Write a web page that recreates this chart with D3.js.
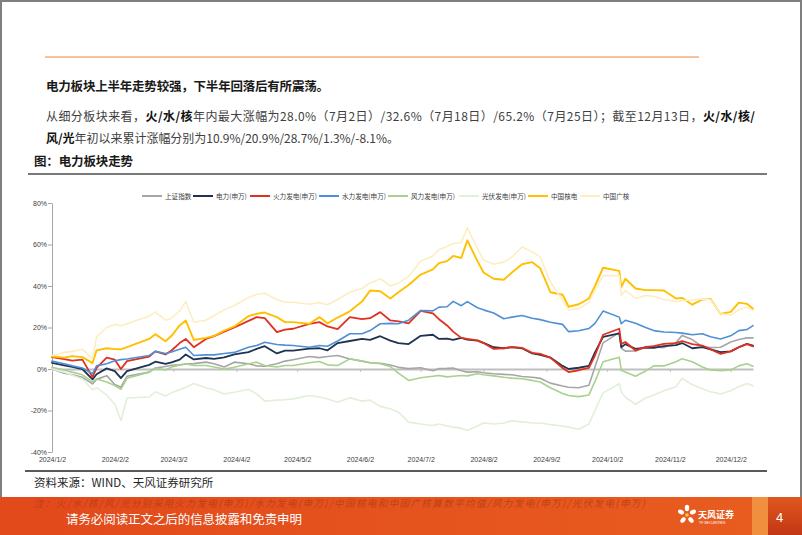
<!DOCTYPE html>
<html><head><meta charset="utf-8">
<script src="https://cdn.jsdelivr.net/npm/d3@7"></script>
<style>
html,body{margin:0;padding:0;background:#fff;}
svg{display:block;}
</style></head><body>
<svg id="page" width="802" height="535"></svg>
<script>
// ---------------- DATA ----------------
const dates = ["2024-01-02","2024-01-08","2024-01-12","2024-01-17","2024-01-22","2024-01-24","2024-01-29","2024-02-02","2024-02-05","2024-02-08",
"2024-02-19","2024-02-22","2024-02-27","2024-03-01","2024-03-05","2024-03-08","2024-03-12","2024-03-18","2024-03-22","2024-03-27",
"2024-04-01","2024-04-08","2024-04-12","2024-04-16","2024-04-22","2024-04-26","2024-04-30","2024-05-08","2024-05-13","2024-05-17",
"2024-05-22","2024-05-28","2024-06-03","2024-06-07","2024-06-12","2024-06-17","2024-06-21","2024-06-26","2024-07-02","2024-07-08",
"2024-07-11","2024-07-15","2024-07-18","2024-07-22","2024-07-25","2024-07-30","2024-08-02","2024-08-07","2024-08-12","2024-08-16",
"2024-08-21","2024-08-26","2024-08-30","2024-09-04","2024-09-10","2024-09-13","2024-09-18","2024-09-23","2024-09-26","2024-09-30",
"2024-10-08","2024-10-09","2024-10-11","2024-10-16","2024-10-21","2024-10-25","2024-10-30","2024-11-05","2024-11-08","2024-11-13",
"2024-11-18","2024-11-22","2024-11-27","2024-12-02","2024-12-06","2024-12-10","2024-12-13"];

const seriesNames = ["上证指数","电力(申万)","火力发电(申万)","水力发电(申万)","风力发电(申万)","光伏发电(申万)","中国核电","中国广核"];

const sse = [0.0,-2.0,-2.8,-4.0,-7.2,-5.0,-3.2,-7.5,-8.8,-3.5,
-1.5,0.5,1.2,1.8,2.0,2.4,2.6,3.3,2.5,1.0,
3.3,2.5,1.5,1.3,2.5,3.8,4.5,6.0,5.5,6.0,
6.5,4.8,3.8,3.0,2.8,1.9,0.8,0.2,0.6,-0.8,
0.2,0.3,0.5,-0.8,-1.5,-1.3,-1.8,-2.3,-2.6,-2.8,
-3.6,-4.0,-4.5,-6.8,-8.2,-8.8,-9.0,-7.8,1.0,12.6,
17.5,10.0,8.6,8.7,10.8,10.8,10.3,12.8,16.2,14.2,
10.8,10.3,10.5,13.0,14.2,15.0,15.0];

const power = [3.0,1.8,1.0,0.0,-5.0,-2.5,0.3,-1.0,-4.4,-1.0,
2.0,3.5,2.5,3.2,4.5,7.0,4.6,5.3,4.9,5.6,
7.0,8.1,9.7,11.0,7.5,8.9,8.9,9.8,10.0,9.0,
12.5,13.5,14.5,14.0,15.8,13.7,12.5,12.0,16.0,16.5,
14.5,14.6,14.0,15.0,14.2,13.7,12.6,10.5,10.0,10.5,
10.0,7.5,6.8,5.5,1.5,0.0,0.6,1.5,8.0,15.5,
17.2,10.5,12.0,9.7,10.3,10.2,11.0,11.5,12.5,10.0,
10.5,9.5,8.1,8.5,10.5,12.1,11.3];

const thermal = [5.7,4.8,4.0,4.5,-3.9,0.5,5.5,4.5,0.0,3.8,
6.0,8.5,7.0,8.9,12.5,14.5,10.5,14.5,15.8,18.0,
20.0,23.2,25.0,24.5,17.8,19.0,19.4,21.8,22.6,20.5,
19.2,25.0,24.0,24.5,27.4,23.4,23.0,22.0,28.0,26.8,
24.0,21.0,18.0,15.0,14.5,13.8,12.5,9.7,10.0,10.5,
10.2,7.8,7.3,5.5,0.5,-1.5,-0.6,0.5,6.5,16.5,
19.4,12.1,13.0,8.9,10.5,11.0,12.1,12.5,13.5,12.0,
11.3,9.5,7.3,8.5,10.5,12.0,10.9];

const hydro = [3.8,2.5,1.5,0.5,-2.3,1.5,2.5,4.0,4.5,4.8,
6.5,8.5,7.5,8.2,9.5,10.5,6.5,6.8,6.8,7.5,
8.0,10.5,11.3,12.9,11.8,11.5,11.3,10.5,11.3,11.0,
13.5,17.0,17.0,18.5,21.8,22.0,21.8,23.5,28.2,28.0,
29.8,30.0,32.6,30.5,32.5,29.5,28.5,27.0,24.2,25.0,
25.8,24.5,23.8,22.5,21.5,18.0,18.4,19.5,22.0,27.9,
25.0,21.8,23.5,22.0,20.0,18.5,17.8,17.6,17.3,16.5,
17.0,15.5,14.5,16.0,18.5,19.0,20.9];

const wind = [0.8,-0.5,-1.5,-2.8,-6.3,-4.8,-6.3,-8.0,-9.8,-4.5,
-1.5,0.5,-0.5,1.0,1.8,2.5,1.7,1.7,1.0,0.0,
0.8,2.5,3.3,1.7,1.0,1.7,1.7,3.0,3.6,2.0,
1.7,4.9,3.8,3.0,2.5,1.2,-2.0,-5.5,-4.2,-3.5,
-3.1,-3.8,-3.5,-3.1,-3.3,-2.3,-2.8,-3.3,-4.0,-4.4,
-4.7,-5.5,-6.3,-9.0,-11.8,-12.8,-13.3,-12.5,-6.0,3.5,
5.7,-0.7,-1.5,-3.5,-1.0,1.5,1.5,3.5,4.9,3.5,
1.0,-0.5,-0.8,-0.5,1.5,2.5,1.3];

const solar = [0.0,-1.5,-3.0,-4.8,-10.0,-9.0,-12.5,-17.0,-24.8,-14.0,
-13.5,-11.0,-13.0,-11.5,-10.0,-8.8,-7.0,-9.0,-10.0,-12.0,
-11.2,-9.8,-12.0,-15.5,-15.0,-14.8,-14.4,-12.8,-13.5,-14.5,
-16.0,-13.8,-15.5,-15.0,-18.0,-19.2,-20.8,-25.6,-26.5,-27.2,
-26.5,-27.5,-28.0,-28.5,-29.6,-27.5,-26.0,-26.5,-26.0,-25.0,
-25.5,-26.0,-26.0,-26.8,-27.5,-28.0,-29.0,-26.5,-20.0,-11.5,
-7.1,-11.0,-13.6,-17.0,-14.0,-12.5,-10.5,-8.5,-4.5,-7.5,
-9.5,-11.0,-12.0,-10.5,-8.5,-7.0,-8.1];

const chinaNuclear = [6.0,5.5,6.2,5.7,2.8,9.0,10.0,9.6,9.5,10.5,
14.5,16.8,13.4,16.0,21.0,23.4,14.0,15.0,16.0,18.5,
20.5,25.5,26.6,27.2,25.0,22.6,22.6,21.8,25.0,22.0,
24.8,27.8,32.5,37.8,37.5,34.0,37.0,40.5,45.5,48.0,
51.0,52.0,54.5,53.5,62.0,52.0,46.5,43.5,43.0,46.5,
50.5,51.5,48.5,37.0,35.8,30.0,31.2,34.0,40.0,48.8,
47.3,39.5,43.5,38.8,38.0,38.0,37.8,34.0,34.3,31.0,
33.5,33.8,26.5,27.5,32.0,31.4,29.0];

const cgnPower = [6.5,8.0,8.5,9.5,5.0,15.5,20.0,21.5,20.8,21.8,
25.5,27.5,23.5,24.5,28.0,32.5,22.5,23.5,25.8,28.5,
30.6,34.5,36.0,36.5,33.5,32.2,32.2,31.2,32.0,31.0,
33.5,37.0,38.8,41.5,43.5,40.0,41.5,44.5,52.0,54.5,
57.5,59.0,60.5,61.0,68.0,58.0,52.5,50.5,51.5,54.0,
58.8,56.5,54.0,42.0,33.0,28.5,29.0,32.0,38.0,45.0,
45.0,35.4,37.8,34.0,35.4,35.0,33.5,32.5,33.0,33.2,
33.8,33.5,26.6,26.0,28.5,29.8,28.2];

const yTicks = [-40,-20,0,20,40,60,80];
const xTickDates = ["2024-01-02","2024-02-02","2024-03-02","2024-04-02","2024-05-02","2024-06-02","2024-07-02","2024-08-02","2024-09-02","2024-10-02","2024-11-02","2024-12-02"];

// ---------------- STYLE ----------------
const colors = ["#a6a6a6","#1f3350","#e0301e","#4f8fd6","#a9d18e","#e2efd9","#ffc000","#fdeec2"];
const widths = [1.6,1.8,1.8,1.6,1.6,1.6,1.9,1.6];
const cjk = '"Noto Sans CJK SC","Noto Sans",sans-serif';
const latin = '"Liberation Sans",Arial,sans-serif';

const svg = d3.select('#page');
const W = 802, H = 535;
svg.append('rect').attr('width',W).attr('height',H).attr('fill','#fff');

// ---------------- HEADER ----------------
svg.append('line').attr('x1',45).attr('x2',699).attr('y1',57).attr('y2',57)
  .attr('stroke','#f2ad7e').attr('stroke-width',1.6);

svg.append('text').attr('x',46).attr('y',91).attr('font-family',cjk).attr('font-size',12.5)
  .attr('font-weight','bold').attr('fill','#1a1a1a').attr('textLength',283).attr('lengthAdjust','spacing')
  .text('电力板块上半年走势较强，下半年回落后有所震荡。');

const p1 = svg.append('text').attr('x',46).attr('y',121).attr('font-family',cjk).attr('font-size',12)
  .attr('fill','#404040').attr('textLength',709).attr('lengthAdjust','spacing');
p1.append('tspan').text('从细分板块来看，');
p1.append('tspan').attr('font-weight','bold').attr('fill','#111').text('火/水/核');
p1.append('tspan').text('年内最大涨幅为28.0%（7月2日）/32.6%（7月18日）/65.2%（7月25日）；截至12月13日，');
p1.append('tspan').attr('font-weight','bold').attr('fill','#111').text('火/水/核/');

const p2 = svg.append('text').attr('x',46).attr('y',143).attr('font-family',cjk).attr('font-size',12)
  .attr('fill','#404040').attr('textLength',353).attr('lengthAdjust','spacing');
p2.append('tspan').attr('font-weight','bold').attr('fill','#111').text('风/光');
p2.append('tspan').text('年初以来累计涨幅分别为10.9%/20.9%/28.7%/1.3%/-8.1%。');

svg.append('text').attr('x',34).attr('y',166).attr('font-family',cjk).attr('font-size',12.5)
  .attr('font-weight','bold').attr('fill','#1a1a1a').attr('textLength',99).attr('lengthAdjust','spacing')
  .text('图：电力板块走势');

svg.append('line').attr('x1',28).attr('x2',767).attr('y1',174).attr('y2',174)
  .attr('stroke','#7a7a7a').attr('stroke-width',2);

// ---------------- CHART ----------------
const parse = d3.timeParse('%Y-%m-%d');
const dateObjs = dates.map(parse);
const x = d3.scaleTime().domain([parse('2024-01-02'), parse('2024-12-13')]).range([52, 753]);
const y = d3.scaleLinear().domain([-40, 80]).range([452, 203]);

const allSeries = [sse, power, thermal, hydro, wind, solar, chinaNuclear, cgnPower];

// y axis
const yAxis = svg.append('g').attr('transform','translate(52,0)')
  .call(d3.axisLeft(y).tickValues(yTicks).tickFormat(d => d + '%').tickSize(4).tickSizeOuter(0).tickPadding(1));
yAxis.select('.domain').attr('stroke','#a6a6a6');
yAxis.selectAll('.tick line').attr('stroke','#a6a6a6');
yAxis.selectAll('text').attr('font-family',latin).attr('font-size',7).attr('fill','#404040');

// zero axis line with ticks
const zAxis = svg.append('g').attr('transform',`translate(0,${y(0)})`)
  .call(d3.axisBottom(x).tickValues(xTickDates.map(parse)).tickFormat('').tickSize(3).tickSizeOuter(0));
zAxis.select('.domain').attr('stroke','#bfbfbf').attr('stroke-width',1.8);
zAxis.selectAll('.tick line').attr('stroke','#bfbfbf');

// bottom labels
const bAxis = svg.append('g').attr('transform',`translate(0,${y(-40)})`)
  .call(d3.axisBottom(x).tickValues(xTickDates.map(parse)).tickFormat(d3.timeFormat('%Y/%-m/%-d')).tickSize(0).tickPadding(5));
bAxis.select('.domain').remove();
bAxis.selectAll('text').attr('font-family',latin).attr('font-size',7).attr('fill','#404040');

// lines
const line = d3.line().x((d,i) => x(dateObjs[i])).y(d => y(d));
allSeries.forEach((vals, k) => {
  svg.append('path').datum(vals).attr('d', line)
    .attr('fill','none').attr('stroke',colors[k]).attr('stroke-width',widths[k])
    .attr('stroke-linejoin','round').attr('stroke-linecap','round');
});

// legend
const legendX = [142,193,250,319,388,459,528,580];
const lg = svg.append('g');
seriesNames.forEach((name,k) => {
  lg.append('line').attr('x1',legendX[k]).attr('x2',legendX[k]+20).attr('y1',196).attr('y2',196)
    .attr('stroke',colors[k]).attr('stroke-width',2);
  lg.append('text').attr('x',legendX[k]+23).attr('y',198.5).attr('font-family',cjk).attr('font-size',6.6)
    .attr('fill','#404040').text(name);
});

// ---------------- SOURCE ----------------
svg.append('line').attr('x1',25).attr('x2',767).attr('y1',471).attr('y2',471)
  .attr('stroke','#595959').attr('stroke-width',2);
svg.append('text').attr('x',34).attr('y',486.5).attr('font-family',cjk).attr('font-size',11.5)
  .attr('fill','#262626').text('资料来源：WIND、天风证券研究所');

// ---------------- FOOTER ----------------
const defs = svg.append('defs');
const g1 = defs.append('linearGradient').attr('id','band').attr('x1',0).attr('x2',1).attr('y1',0).attr('y2',0);
g1.append('stop').attr('offset','0%').attr('stop-color','#e2491b');
g1.append('stop').attr('offset','100%').attr('stop-color','#e85c20');
const g2 = defs.append('linearGradient').attr('id','pg').attr('x1',0).attr('x2',0).attr('y1',0).attr('y2',1);
g2.append('stop').attr('offset','0%').attr('stop-color','#e0571f');
g2.append('stop').attr('offset','100%').attr('stop-color','#c33614');

svg.append('rect').attr('x',0).attr('y',497).attr('width',752).attr('height',38).attr('fill','url(#band)');
svg.append('rect').attr('x',752).attr('y',497).attr('width',16).attr('height',38).attr('fill','#f0903e');
svg.append('rect').attr('x',768).attr('y',497).attr('width',34).attr('height',38).attr('fill','url(#pg)');

svg.append('text').attr('x',34).attr('y',507).attr('font-family',cjk).attr('font-size',9.5)
  .attr('font-style','italic').attr('fill','#b33a10').attr('opacity',0.75)
  .attr('textLength',611).attr('lengthAdjust','spacing')
  .text('注：火/水/核/风/光分别采用火力发电(申万)/水力发电(申万)/中国核电和中国广核算数平均值/风力发电(申万)/光伏发电(申万)');

svg.append('text').attr('x',66).attr('y',523.5).attr('font-family',cjk).attr('font-size',12.5)
  .attr('fill','#ffffff').attr('textLength',236).attr('lengthAdjust','spacing')
  .text('请务必阅读正文之后的信息披露和免责申明');

// logo
const logo = svg.append('g').attr('transform','translate(687,515)');
[[0,-7],[-6,-3],[6,-3],[-4,5],[4,5]].forEach(([dx,dy]) => {
  logo.append('ellipse').attr('cx',dx).attr('cy',dy).attr('rx',3.2).attr('ry',2.2)
    .attr('transform',`rotate(${Math.atan2(dy,dx)*180/Math.PI},${dx},${dy})`).attr('fill','#fff');
});
logo.append('circle').attr('r',1.8).attr('fill','#f7c948');
svg.append('text').attr('x',698).attr('y',518).attr('font-family',cjk).attr('font-size',9)
  .attr('font-weight','bold').attr('fill','#fff').text('天风证券');
svg.append('text').attr('x',699).attr('y',524).attr('font-family',latin).attr('font-size',3.5)
  .attr('fill','#fff').text('TF SECURITIES');

svg.append('text').attr('x',776).attr('y',521.5).attr('font-family',latin).attr('font-size',13)
  .attr('fill','#fff').text('4');

// page border
svg.append('path').attr('d','M1,497 V1 H801 V497').attr('fill','none').attr('stroke','#7f7f7f').attr('stroke-width',2);
</script>
</body></html>
